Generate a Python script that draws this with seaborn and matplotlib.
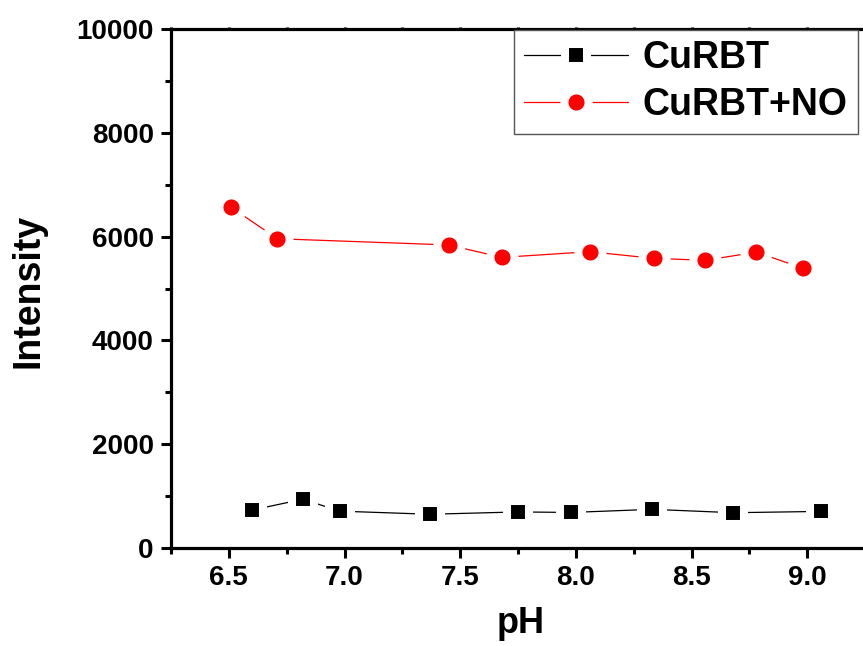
import numpy as np
import pandas as pd
import matplotlib
matplotlib.use("Agg")
import matplotlib.pyplot as plt
import seaborn as sns
from matplotlib.ticker import MultipleLocator

# data
ph_curbt = [6.60, 6.82, 6.98, 7.37, 7.75, 7.98, 8.33, 8.68, 9.06]
int_curbt = [725, 935, 705, 645, 690, 680, 740, 675, 700]
ph_curbt_no = [6.51, 6.71, 7.45, 7.68, 8.06, 8.34, 8.56, 8.78, 8.98]
int_curbt_no = [6565, 5960, 5840, 5600, 5710, 5580, 5545, 5700, 5395]
series_names = ["CuRBT", "CuRBT+NO"]
x_ticks = [6.5, 7.0, 7.5, 8.0, 8.5, 9.0]
y_ticks = [0, 2000, 4000, 6000, 8000, 10000]

df = pd.DataFrame({
    "pH": ph_curbt + ph_curbt_no,
    "Intensity": int_curbt + int_curbt_no,
    "series": [series_names[0]] * len(ph_curbt) + [series_names[1]] * len(ph_curbt_no),
})

sns.set_theme(style="ticks")
plt.rcParams["font.family"] = ["Liberation Sans", "DejaVu Sans"]
plt.rcParams["font.weight"] = "bold"
for k in ["text.color", "axes.labelcolor", "xtick.color", "ytick.color", "axes.edgecolor"]:
    plt.rcParams[k] = "black"

fig = plt.figure(figsize=(8.63, 6.46), dpi=100)
ax = fig.add_axes([171 / 863, 98.3 / 646, 694 / 863, 518.4 / 646])

mew = 5.8
sizes = {"CuRBT": 10.3 + mew, "CuRBT+NO": 11.6 + mew}
colors = {"CuRBT": "black", "CuRBT+NO": "#ff0000"}
sns.lineplot(
    data=df, x="pH", y="Intensity", hue="series", style="series",
    palette=colors,
    markers={"CuRBT": "s", "CuRBT+NO": "o"}, dashes=False,
    estimator=None, sort=True, linewidth=0.9,
    markersize=10.5 + mew, markeredgecolor="white", markeredgewidth=mew,
    ax=ax,
)
for line in ax.get_lines():
    if line.get_marker() == "o":
        line.set_markersize(sizes["CuRBT+NO"])
    elif line.get_marker() == "s":
        line.set_markersize(sizes["CuRBT"])

ax.set_xlim(6.25, 9.25)
ax.set_ylim(0, 10000)
ax.set_xticks(x_ticks)
ax.set_xticklabels([f"{t:.1f}" for t in x_ticks])
ax.set_yticks(y_ticks)
ax.set_yticklabels([str(t) for t in y_ticks])
ax.xaxis.set_minor_locator(MultipleLocator(0.25))
ax.yaxis.set_minor_locator(MultipleLocator(1000))

for s in ["left", "bottom", "top"]:
    ax.spines[s].set_linewidth(2.3)
    ax.spines[s].set_color("black")
ax.spines["right"].set_visible(False)

ax.tick_params(axis="both", which="major", direction="out", length=7.5, width=2.2,
               labelsize=20, pad=5, color="black", labelcolor="black")
ax.tick_params(axis="both", which="minor", direction="out", length=4, width=2.2, color="black")
ax.tick_params(axis="x", which="both", top=True)
for t in ax.xaxis.get_major_ticks() + ax.xaxis.get_minor_ticks():
    t.tick2line.set_markersize(1.5)
for lab in ax.get_xticklabels() + ax.get_yticklabels():
    lab.set_fontweight("bold")

ax.set_xlabel("pH", fontsize=26, fontweight="bold", color="black")
ax.set_ylabel("Intensity", fontsize=27, fontweight="bold", color="black")
ax.xaxis.set_label_coords(0.5 + (521 - 518) / 694, -0.112)
ax.yaxis.set_label_coords(-0.180, 0.5 - (291 - 288.5) / 518.4)

handles, labels = ax.get_legend_handles_labels()
leg = ax.legend(
    handles, labels, loc="upper right",
    bbox_to_anchor=(858 / 863, 1 - 29.5 / 646), bbox_transform=fig.transFigure,
    borderaxespad=0, frameon=True, fancybox=False,
    prop={"weight": "bold", "size": 27},
    handlelength=2.75, handletextpad=0.4, labelspacing=0.3,
    borderpad=0.28, edgecolor="#555555", framealpha=1,
)
leg.get_frame().set_linewidth(1.0)
for h, name in zip(leg.legend_handles, labels):
    h.set_markeredgecolor("white")
    h.set_markeredgewidth(mew)
    h.set_markersize(sizes[name])
    h.set_linewidth(0.9)
for txt in leg.get_texts():
    txt.set_color("black")

fig.savefig("out.png", dpi=100)
